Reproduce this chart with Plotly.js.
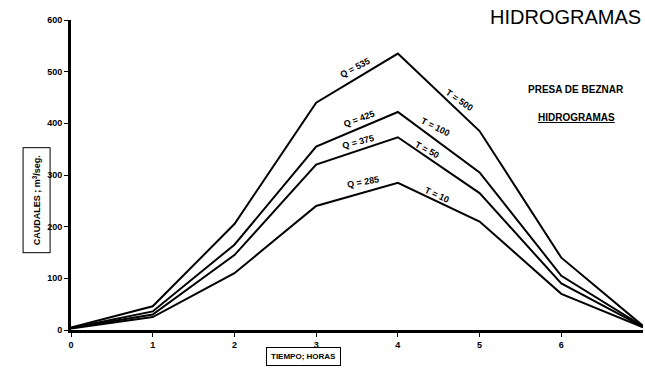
<!DOCTYPE html>
<html><head><meta charset="utf-8">
<script src="https://cdn.plot.ly/plotly-3.0.1.min.js"></script>
<style>body{margin:0;background:#fff}#c{width:645px;height:382px}</style>
</head><body><div id="c"></div>
<script>
const horas = [0,1,2,3,4,5,6,7];
const qT500 = [5,46,205,440,535,385,140,8];
const qT100 = [4,36,165,355,422,305,105,7];
const qT50  = [4,30,145,320,373,265,90,6];
const qT10  = [3,25,110,240,285,210,70,5];
const xTicks = [0,1,2,3,4,5,6];
const yTicks = [0,100,200,300,400,500,600];
const labelsQ = ["Q = 535","Q = 425","Q = 375","Q = 285"];
const labelsT = ["T = 500","T = 100","T = 50","T = 10"];

const series=[qT500,qT100,qT50,qT10];
const traces = series.map(s=>({x:horas,y:s,mode:'lines',line:{color:'#000',width:2},hoverinfo:'skip'}));

const F="Liberation Sans, Arial, sans-serif";
const lab=(t,x,y,a)=>({text:'<b>'+t+'</b>',x:x,y:y,xref:'x',yref:'y',showarrow:false,textangle:a,font:{family:F,size:9,color:'#000'}});
const qPos=[[3.47,507,-28],[3.52,408,-20],[3.51,364,-15],[3.57,286,-10]];
const tPos=[[4.75,445,35],[4.46,393,27],[4.36,348,28],[4.48,261,25]];
const ann=[];
labelsQ.forEach((t,i)=>ann.push(lab(t,...qPos[i])));
labelsT.forEach((t,i)=>ann.push(lab(t,...tPos[i])));
ann.push({text:'HIDROGRAMAS',xref:'paper',yref:'paper',x:1,xanchor:'right',y:1.01,yanchor:'middle',showarrow:false,font:{family:F,size:20,color:'#000'}});
ann.push({text:'<b>PRESA DE BEZNAR</b>',x:0.97,xanchor:'right',xref:'paper',yref:'paper',y:0.8,showarrow:false,font:{family:F,size:10,color:'#000'}});
ann.push({text:'<b><u>HIDROGRAMAS</u></b>',x:0.955,xanchor:'right',xref:'paper',yref:'paper',y:0.71,showarrow:false,font:{family:F,size:10,color:'#000'}});
ann.push({text:'<b>TIEMPO; HORAS</b>',xref:'paper',yref:'paper',x:(304-71)/574,y:-0.086,yanchor:'middle',showarrow:false,bordercolor:'#000',borderwidth:1,borderpad:4,font:{family:F,size:8,color:'#000'}});
ann.push({text:'<b>CAUDALES ; m<sup>3</sup>/seg.</b>',xref:'paper',yref:'paper',x:-0.085,y:0.42,textangle:-90,showarrow:false,bordercolor:'#000',borderwidth:1,borderpad:7,font:{family:F,size:9,color:'#000'}});

Plotly.newPlot('c',traces,{
 width:645,height:382,margin:{l:71,r:2,t:20,b:52},
 paper_bgcolor:'#fff',plot_bgcolor:'#fff',showlegend:false,
 xaxis:{range:[0,7],tickvals:xTicks,ticktext:xTicks.map(String),ticks:'outside',ticklen:4,tickcolor:'#000',showgrid:false,zeroline:false,showline:true,linecolor:'#000',linewidth:3,tickfont:{family:F,size:9,color:'#000',weight:'bold'}},
 yaxis:{range:[0,600],tickvals:yTicks,ticktext:yTicks.map(String),ticks:'outside',ticklen:4,tickcolor:'#000',showgrid:false,zeroline:false,showline:true,linecolor:'#000',linewidth:3,tickfont:{family:F,size:9,color:'#000',weight:'bold'}},
 annotations:ann
},{displayModeBar:false,staticPlot:true});
</script></body></html>
